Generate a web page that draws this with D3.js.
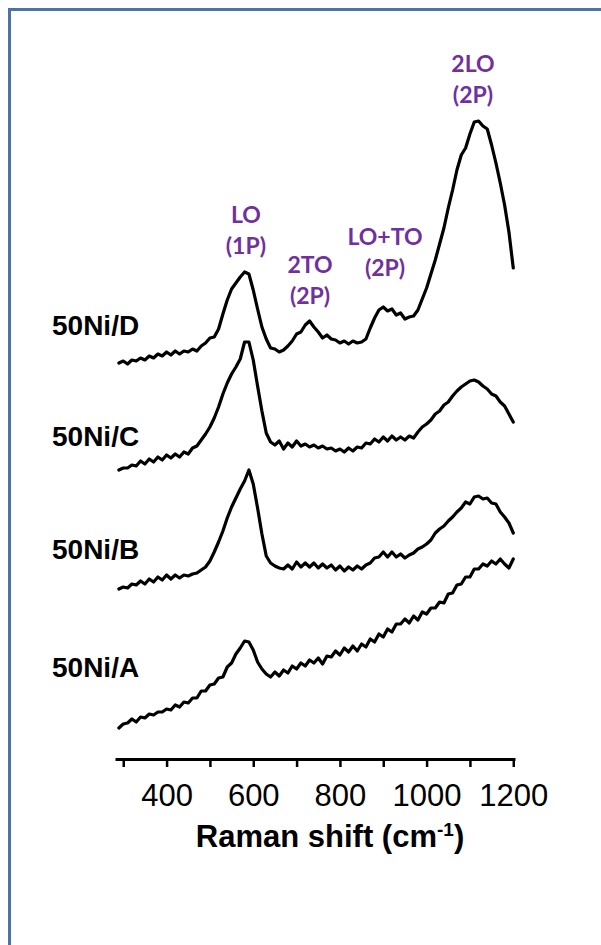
<!DOCTYPE html>
<html>
<head>
<meta charset="utf-8">
<script src="https://cdn.jsdelivr.net/npm/d3@7"></script>
<style>
  html, body { margin: 0; padding: 0; background: #ffffff; }
  svg { display: block; }
</style>
</head>
<body>
<svg id="chart" width="601" height="945"></svg>
<script>
// Raman shift grid (cm-1) shared by all spectra
const shift = [
  290, 300, 310, 320, 330, 340, 350, 360, 370, 380, 390, 400, 410, 420, 430, 440, 450, 460, 470, 480,
  490, 500, 510, 520, 530, 540, 550, 560, 570, 580, 590, 600, 610, 620, 630, 640, 650, 660, 670, 680,
  690, 700, 710, 720, 730, 740, 750, 760, 770, 780, 790, 800, 810, 820, 830, 840, 850, 860, 870, 880,
  890, 900, 910, 920, 930, 940, 950, 960, 970, 980, 990, 1000, 1010, 1020, 1030, 1040, 1050, 1060, 1070, 1080,
  1090, 1100, 1110, 1120, 1130, 1140, 1150, 1160, 1170, 1180, 1190, 1200
];

// Intensities (a.u.), spectra stacked with a vertical offset for clarity
const ni50D = [
  3.97, 3.99, 3.96, 4.00, 3.99, 4.02, 4.00, 4.04, 4.02, 4.06, 4.04, 4.08, 4.05, 4.09, 4.06, 4.09, 4.08, 4.11, 4.09, 4.14,
  4.17, 4.22, 4.23, 4.31, 4.46, 4.60, 4.71, 4.77, 4.83, 4.88, 4.86, 4.70, 4.51, 4.33, 4.21, 4.12, 4.11, 4.08, 4.10, 4.14,
  4.19, 4.26, 4.28, 4.35, 4.39, 4.33, 4.28, 4.22, 4.25, 4.21, 4.20, 4.17, 4.19, 4.16, 4.19, 4.17, 4.18, 4.21, 4.32, 4.42,
  4.50, 4.53, 4.49, 4.51, 4.45, 4.47, 4.41, 4.43, 4.44, 4.50, 4.61, 4.72, 4.86, 5.00, 5.16, 5.32, 5.52, 5.70, 5.90, 6.05,
  6.12, 6.26, 6.38, 6.39, 6.34, 6.31, 6.15, 5.97, 5.77, 5.55, 5.28, 4.92
];
const ni50C = [
  2.90, 2.92, 2.92, 2.95, 2.94, 2.99, 2.96, 3.01, 2.98, 3.03, 3.00, 3.05, 3.02, 3.06, 3.03, 3.08, 3.06, 3.12, 3.14, 3.20,
  3.26, 3.33, 3.42, 3.53, 3.66, 3.77, 3.86, 3.93, 4.01, 4.18, 4.18, 4.00, 3.74, 3.49, 3.27, 3.18, 3.15, 3.19, 3.11, 3.17,
  3.13, 3.19, 3.14, 3.16, 3.13, 3.15, 3.12, 3.14, 3.11, 3.12, 3.09, 3.11, 3.08, 3.12, 3.09, 3.13, 3.12, 3.17, 3.16, 3.21,
  3.18, 3.23, 3.19, 3.24, 3.20, 3.23, 3.20, 3.24, 3.22, 3.28, 3.33, 3.36, 3.40, 3.46, 3.49, 3.55, 3.58, 3.64, 3.69, 3.73,
  3.76, 3.79, 3.80, 3.78, 3.74, 3.71, 3.66, 3.64, 3.58, 3.54, 3.46, 3.38
];
const ni50B = [
  1.71, 1.73, 1.72, 1.76, 1.75, 1.79, 1.76, 1.81, 1.78, 1.83, 1.80, 1.85, 1.81, 1.85, 1.82, 1.85, 1.84, 1.86, 1.87, 1.90,
  1.93, 1.99, 2.08, 2.18, 2.29, 2.42, 2.53, 2.62, 2.71, 2.79, 2.90, 2.76, 2.52, 2.26, 2.04, 1.97, 1.94, 1.92, 1.91, 1.95,
  1.91, 1.98, 1.93, 1.97, 1.93, 1.97, 1.92, 1.96, 1.92, 1.95, 1.90, 1.94, 1.89, 1.93, 1.90, 1.94, 1.91, 1.95, 1.97, 2.02,
  2.03, 2.08, 2.03, 2.08, 2.03, 2.06, 2.02, 2.05, 2.07, 2.11, 2.13, 2.16, 2.20, 2.27, 2.31, 2.34, 2.39, 2.43, 2.48, 2.52,
  2.58, 2.56, 2.63, 2.64, 2.61, 2.62, 2.57, 2.56, 2.48, 2.43, 2.37, 2.27
];
const ni50A = [
  0.32, 0.36, 0.37, 0.41, 0.38, 0.43, 0.42, 0.46, 0.45, 0.48, 0.48, 0.51, 0.50, 0.55, 0.53, 0.58, 0.57, 0.62, 0.62, 0.69,
  0.69, 0.75, 0.76, 0.82, 0.83, 0.93, 0.97, 1.06, 1.12, 1.19, 1.18, 1.10, 0.98, 0.91, 0.86, 0.83, 0.88, 0.84, 0.90, 0.87,
  0.94, 0.91, 0.97, 0.94, 1.00, 0.97, 1.02, 0.96, 1.04, 1.03, 1.09, 1.05, 1.12, 1.08, 1.14, 1.09, 1.16, 1.13, 1.21, 1.18,
  1.26, 1.23, 1.31, 1.28, 1.36, 1.36, 1.41, 1.37, 1.44, 1.40, 1.48, 1.46, 1.52, 1.52, 1.58, 1.57, 1.66, 1.67, 1.75, 1.76,
  1.83, 1.83, 1.91, 1.91, 1.96, 1.94, 1.99, 1.96, 2.01, 1.96, 1.92, 2.01
];

const seriesNames = ["50Ni/D", "50Ni/C", "50Ni/B", "50Ni/A"];
const seriesValues = [ni50D, ni50C, ni50B, ni50A];

// Axis ticks
const tickValues = [300, 400, 500, 600, 700, 800, 900, 1000, 1100, 1200];
const tickLabels = ["", "400", "", "600", "", "800", "", "1000", "", "1200"];

// Band assignments placed above the bands
const bandLines = [["LO", "(1P)"], ["2TO", "(2P)"], ["LO+TO", "(2P)"], ["2LO", "(2P)"]];
const bandShift = [583, 731, 904, 1107];
const bandHeight = [5.37, 4.87, 5.15, 6.88];

// Label baseline heights (a.u.) for each spectrum name
const nameHeight = [4.25, 3.14, 2.01, 0.83];

seriesValues.forEach((s, i) => {
  if (s.length !== shift.length) throw new Error(seriesNames[i] + " length " + s.length);
});

const svg = d3.select("#chart");

const x = d3.scaleLinear().domain([281, 1204]).range([115, 515]);
const y = d3.scaleLinear().domain([0, 7]).range([760, 60]);

// frame
svg.append("rect")
  .attr("x", 9.5).attr("y", 9.5)
  .attr("width", 700).attr("height", 1000)
  .attr("fill", "none")
  .attr("stroke", "#4a74a8")
  .attr("stroke-width", 3);

// spectra
const line = d3.line()
  .x(d => x(d[0]))
  .y(d => y(d[1]));

svg.append("g")
  .selectAll("path")
  .data(seriesValues)
  .join("path")
  .attr("d", vals => line(shift.map((s, i) => [s, vals[i]])))
  .attr("fill", "none")
  .attr("stroke", "#000")
  .attr("stroke-width", 3.2)
  .attr("stroke-linejoin", "round")
  .attr("stroke-linecap", "round");

// spectrum names
svg.append("g")
  .selectAll("text")
  .data(seriesNames)
  .join("text")
  .attr("x", 52)
  .attr("y", (d, i) => y(nameHeight[i]))
  .attr("font-family", "'Liberation Sans', Arial, sans-serif")
  .attr("font-weight", "bold")
  .attr("font-size", 28)
  .attr("fill", "#000")
  .text(d => d);

// band assignments
const bands = svg.append("g")
  .selectAll("text")
  .data(bandLines)
  .join("text")
  .attr("text-anchor", "middle")
  .attr("font-family", "Lato, 'Open Sans', sans-serif")
  .attr("font-weight", 700)
  .attr("font-size", 23)
  .attr("fill", "#7030a0")
  .attr("transform", (d, i) => `translate(${x(bandShift[i])},${y(bandHeight[i])})`);
bands.selectAll("tspan")
  .data(d => d)
  .join("tspan")
  .attr("x", 0)
  .attr("dy", (d, j) => j === 0 ? 0 : 31)
  .text(d => d);

// x axis
const axis = d3.axisBottom(x)
  .tickValues(tickValues)
  .tickFormat((d, i) => tickLabels[i])
  .tickSize(8)
  .tickSizeOuter(0)
  .tickPadding(17);

const gx = svg.append("g")
  .attr("transform", "translate(0,759)")
  .call(axis);
gx.select(".domain").attr("stroke", "#000").attr("stroke-width", 3);
gx.selectAll(".tick line").attr("stroke", "#000").attr("stroke-width", 2.5);
gx.selectAll(".tick text")
  .attr("fill", "#000")
  .attr("font-family", "'Liberation Sans', Arial, sans-serif")
  .attr("font-size", 31);

// x axis title
const title = svg.append("text")
  .attr("x", 330)
  .attr("y", 847)
  .attr("text-anchor", "middle")
  .attr("font-family", "'Liberation Sans', Arial, sans-serif")
  .attr("font-weight", "bold")
  .attr("font-size", 31)
  .attr("fill", "#000");
title.append("tspan").text("Raman shift (cm");
title.append("tspan").attr("font-size", 19).attr("dy", -11).text("-1");
title.append("tspan").attr("dy", 11).text(")");
</script>
</body>
</html>
